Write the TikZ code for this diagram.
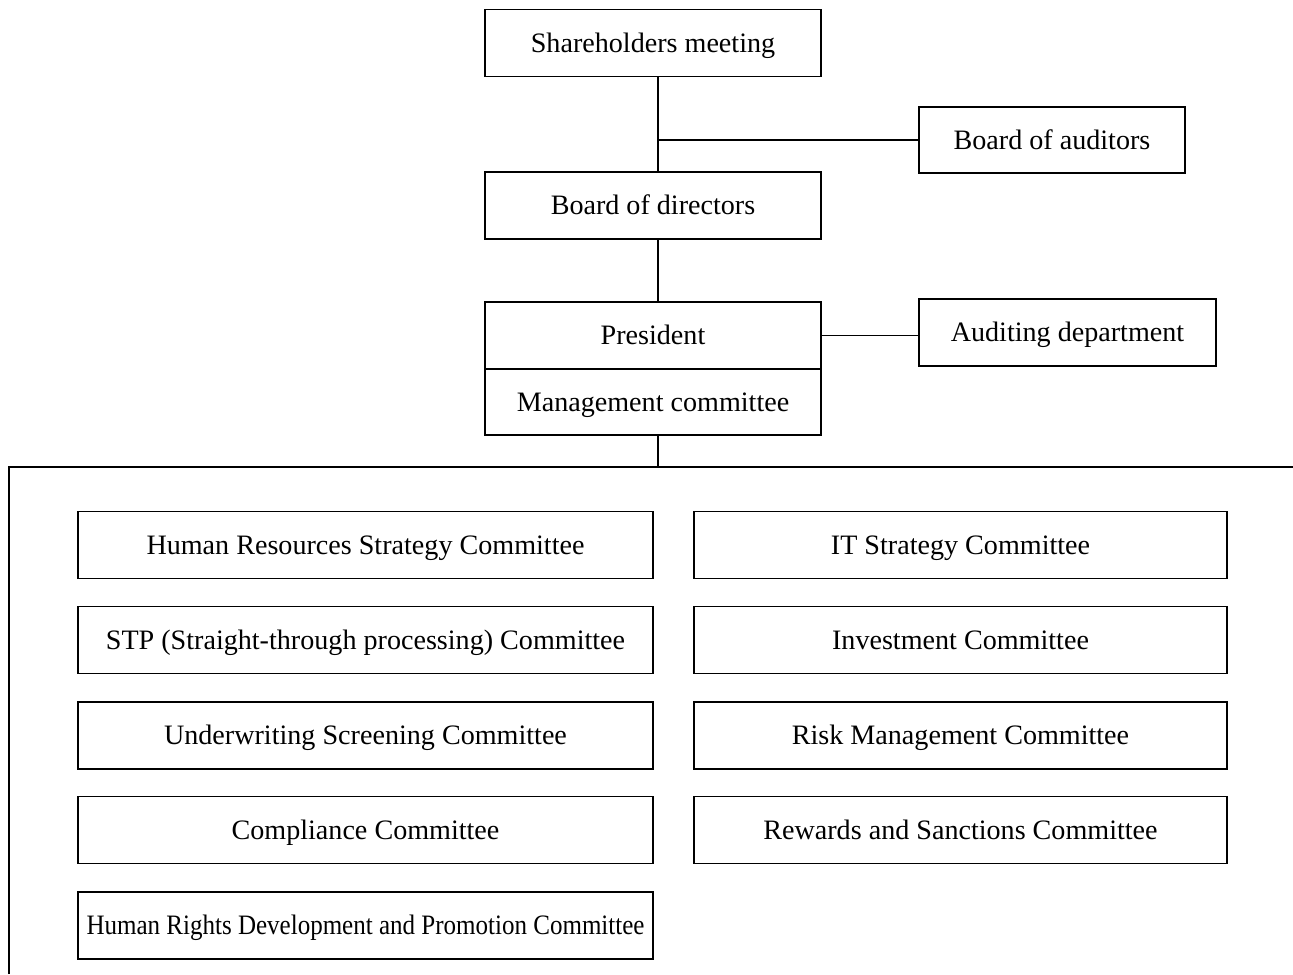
\documentclass[tikz,border=0pt]{standalone}
\usepackage{fontspec}
\setmainfont{Liberation Serif}
\usepackage{tikz}
\usetikzlibrary{positioning}

\begin{document}
\begin{tikzpicture}[x=0.02cm,y=-0.02cm,line width=1pt,
    box/.style={draw, rectangle, inner sep=0pt, outer sep=0pt, minimum width=6.72cm, minimum height=1.34cm,
      text height=10.6pt, text depth=0pt, font=\fontsize{16}{19}\selectfont},
    lbox/.style={box, minimum width=11.5cm},
    rbox/.style={box, minimum width=10.66cm}]
                \useasboundingbox (0,0) rectangle (1293,974);
                % top of the chart
                \node[box] (share) at (653,43) {Shareholders meeting};
                \node[box, minimum width=5.32cm, minimum height=1.32cm] (auditors) at (1052,140) {Board of auditors};
                \node[box] (board) at (653,205.5) {Board of directors};
                \node[box] (president) at (653,335.5) {President};
                \node[box, minimum height=1.32cm, below=0pt of president] (mgmt) {Management committee};
                \node[box, minimum width=5.94cm] (auditing) at (1067.5,332.5) {Auditing department};
                \coordinate (trunk) at (658,140);
                \coordinate (frame) at (9,467);

                % committees, left column
                \node[lbox] (hr) at (365.5,545) {Human Resources Strategy Committee};
                \node[lbox] (stp) at (365.5,640) {STP (Straight-through processing) Committee};
                \node[lbox] (uw) at (365.5,735.5) {Underwriting Screening Committee};
                \node[lbox] (comp) at (365.5,830) {Compliance Committee};
                \node[lbox] (rights) at (365.5,925.5) {\scalebox{0.89}[1]{Human Rights Development and Promotion Committee}};
                % committees, right column
                \node[rbox] (it) at (960.5,545) {IT Strategy Committee};
                \node[rbox] (invest) at (960.5,640) {Investment Committee};
                \node[rbox] (risk) at (960.5,735.5) {Risk Management Committee};
                \node[rbox] (rewards) at (960.5,830) {Rewards and Sanctions Committee};

                % lines
                \draw (share.south -| trunk) -- (board.north -| trunk);
                \draw (trunk) -- (auditors.west);
                \draw (board.south -| trunk) -- (president.north -| trunk);
                \draw (president.east) -- (president.east -| auditing.west);
                \draw (mgmt.south -| trunk) -- (frame -| trunk);
                \draw (9,974) -- (frame) -- (1293,467);
              \end{tikzpicture}
\end{document}
